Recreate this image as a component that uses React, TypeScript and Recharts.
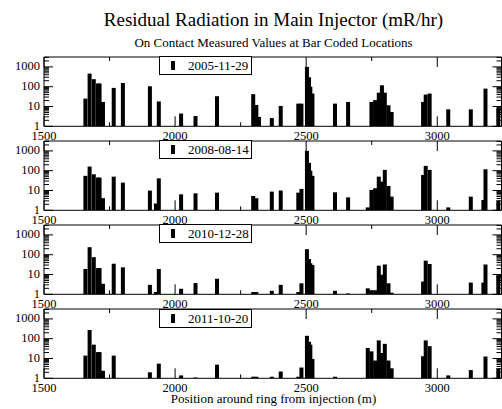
import React from 'react';
import { BarChart, Bar, XAxis, YAxis, ReferenceArea, Legend } from 'recharts';

// ---- data ----
const positions = [
  1658, 1674, 1690, 1706, 1712, 1725, 1766, 1801, 1904, 1927,
  1938, 2023, 2078, 2160, 2298, 2310, 2320, 2369, 2403, 2470,
  2482, 2503, 2511, 2516, 2524, 2610, 2660, 2735, 2749, 2763,
  2777, 2789, 2800, 2814, 2826, 2946, 2956, 2971, 3042, 3128,
  3176, 3184, 3233,
];

const dates = ['2005-11-29', '2008-08-14', '2010-12-28', '2011-10-20'];

const values2005 = [
  25, 460, 240, 145, 145, 17, 87, 155, 105, null,
  18, 4.4, 3.3, 33, 42, 12, 3, 2.6, 10.7, 14,
  14, 1000, 300, 100, 45, 14, 17, null, 17, 21,
  50, 118, 50, 11.5, 5.3, 17, 40, 45, 7.2, 7.2,
  null, 80, 7.8,
];
const values2008 = [
  55, 162, 66, 45, 45, 4.1, 50, 25, 9.9, 2.2,
  41, 6.4, 7.2, 7.8, 5.3, 4.1, null, 8.8, 10, 7.8,
  12, 1000, 250, 100, 55, 8.1, 4.5, 1.4, 10.7, 13,
  50, 28, 110, 17, 4.9, 61, 175, 110, 1.4, 4.9,
  3.3, 118, 3.1,
];
const values2010 = [
  19, 240, 75, 21, 21, 3.4, 35, 23, 3.0, 1.3,
  19, 1.9, 3.7, 6.1, 1.3, 1.3, null, 1.5, 3.0, 1.3,
  3.6, 190, 60, 37, 30, 1.5, 1.1, 2.0, 1.6, 1.6,
  28, 9.7, 32, 3.6, 1.2, 4.4, 50, 34, null, 3.9,
  3.9, 32, 8.7,
];
const values2011 = [
  14, 275, 50, 21, 21, 2.4, 14, null, 2.0, null,
  5.5, 1.4, 1.1, 4.9, 1.2, 1.2, null, 1.2, 2.2, 1.2,
  3.5, 140, 70, 50, 9.5, 1.2, null, 34, 23, 7.9,
  82, 19, 55, 7.9, 3.2, 13, 82, 42, 1.4, 2.6,
  null, 12.6, 3.2,
];

const seriesValues = [values2005, values2008, values2010, values2011];

const xTicks = [1500, 1750, 2000, 2250, 2500, 2750, 3000];
const xLabelTicks = [1500, 2000, 2500, 3000];
const yLabelTicks = [1, 10, 100, 1000];
const yTicks = [
  1, 2, 3, 4, 5, 6, 7, 8, 9,
  10, 20, 30, 40, 50, 60, 70, 80, 90,
  100, 200, 300, 400, 500, 600, 700, 800, 900,
  1000, 2000, 3000,
];

const X_MIN = 1500;
const X_MAX = 3245;
const Y_MIN = 1;
const Y_MAX = 3162;

// ---- layout ----
const W = 502;
const CH = 100;
const MT = 5;
const XH = 25.7;
const YW = 44;
const MR = 0.5;
const PLOT_L = YW;
const PLOT_R = W - MR;
const PLOT_T = MT;
const PLOT_B = CH - XH;
const PANEL_TOPS = [56.7, 140.8, 224.9, 309];
const FONT = '"Liberation Serif", "Times New Roman", Times, serif';

const XTick = (props: any) => {
  const { x, payload } = props;
  const v = payload.value;
  const major = xLabelTicks.includes(v);
  const len = major ? 10 : 4;
  return (
    <g>
      <line x1={x} x2={x} y1={PLOT_B} y2={PLOT_B - len} stroke="#000" strokeWidth={1} />
      <line x1={x} x2={x} y1={PLOT_T} y2={PLOT_T + len} stroke="#000" strokeWidth={1} />
      {major && (
        <text x={x} y={PLOT_B + 13.5} textAnchor="middle" fontFamily={FONT} fontSize={12.5} fill="#000">
          {v}
        </text>
      )}
    </g>
  );
};

const YTick = (props: any) => {
  const { y, payload } = props;
  const v = payload.value;
  const major = yLabelTicks.includes(v);
  const len = major ? 9 : 5;
  return (
    <g>
      <line x1={PLOT_L} x2={PLOT_L + len} y1={y} y2={y} stroke="#000" strokeWidth={1} />
      <line x1={PLOT_R} x2={PLOT_R - len} y1={y} y2={y} stroke="#000" strokeWidth={1} />
      {major && (
        <text x={PLOT_L - 4} y={y + 3.6} textAnchor="end" fontFamily={FONT} fontSize={12.5} fill="#000">
          {v}
        </text>
      )}
    </g>
  );
};

const BarShape = (props: any) => {
  const { x, y, width, height } = props;
  if (![x, y, width, height].every((n) => Number.isFinite(n)) || height <= 0) return <g />;
  const cx = x + width / 2;
  return <rect x={cx - 2} y={y} width={4} height={height} fill="#000" />;
};

const LegendBox = ({ label }: { label: string }) => (
  <div
    style={{
      boxSizing: 'border-box',
      width: 93,
      height: 19,
      border: '1px solid #000',
      background: '#fff',
      position: 'relative',
      fontFamily: FONT,
      fontSize: 13,
      lineHeight: '17px',
      color: '#000',
    }}
  >
    <div style={{ position: 'absolute', left: 11, top: 4, width: 4.3, height: 9, background: '#000' }} />
    <span style={{ position: 'absolute', left: 28, top: 0, whiteSpace: 'nowrap' }}>{label}</span>
  </div>
);

const Panel = ({ values, date }: { values: (number | null)[]; date: string }) => {
  const data = positions
    .map((p, i) => ({ pos: p, v: values[i] }))
    .filter((d) => d.v !== null && d.v !== undefined);
  return (
    <BarChart width={W} height={CH} data={data} margin={{ top: MT, right: MR, bottom: 0, left: 0 }}>
      <XAxis
        dataKey="pos"
        type="number"
        domain={[X_MIN, X_MAX]}
        allowDataOverflow
        ticks={xTicks}
        interval={0}
        height={XH}
        axisLine={false}
        tickLine={false}
        tick={<XTick />}
      />
      <YAxis
        type="number"
        scale="log"
        domain={[Y_MIN, Y_MAX]}
        allowDataOverflow
        ticks={yTicks}
        interval={0}
        width={YW}
        axisLine={false}
        tickLine={false}
        tick={<YTick />}
      />
      <Bar dataKey="v" name={date} fill="#000" isAnimationActive={false} shape={<BarShape />} />
      <ReferenceArea
        x1={X_MIN}
        x2={X_MAX}
        y1={Y_MIN}
        y2={Y_MAX}
        fill="none"
        fillOpacity={0}
        stroke="#000"
        strokeWidth={1}
        strokeOpacity={1}
        ifOverflow="visible"
      />
      <Legend
        layout="horizontal"
        verticalAlign="middle"
        align="center"
        content={() => <LegendBox label={date} />}
        wrapperStyle={{ left: 159, top: MT - 0.5, width: 93, height: 19 }}
      />
    </BarChart>
  );
};

export default function App() {
  return (
    <div style={{ position: 'absolute', left: 0, top: 0, width: W, height: 409, background: '#fff' }}>
      <svg width={W} height={409} style={{ position: 'absolute', left: 0, top: 0 }}>
        <text x={273.5} y={26} textAnchor="middle" fontFamily={FONT} fontSize={19} fill="#000">
          Residual Radiation in Main Injector (mR/hr)
        </text>
        <text x={273.5} y={46.5} textAnchor="middle" fontFamily={FONT} fontSize={13} fill="#000">
          On Contact Measured Values at Bar Coded Locations
        </text>
        <text x={273.5} y={403} textAnchor="middle" fontFamily={FONT} fontSize={13} fill="#000">
          Position around ring from injection (m)
        </text>
      </svg>
      {dates.map((d, i) => (
        <div key={d} style={{ position: 'absolute', left: 0, top: PANEL_TOPS[i] - MT, width: W, height: CH }}>
          <Panel values={seriesValues[i]} date={d} />
        </div>
      ))}
    </div>
  );
}
